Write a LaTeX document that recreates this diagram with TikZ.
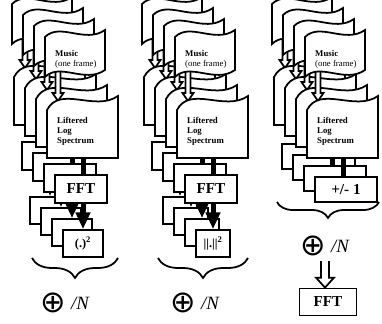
\documentclass[tikz,border=0pt]{standalone}
\usepackage{fontspec}
\setmainfont{Liberation Serif}
\newfontfamily\symfont{DejaVu Sans}
\usetikzlibrary{arrows.meta, positioning, decorations.pathreplacing}

\begin{document}
\begin{tikzpicture}[x=0.3mm, y=-0.3mm,
  fr/.style={draw, fill=white, line width=1.5pt},
  opbox/.style={fr, rectangle, inner sep=0pt, font=\fontsize{13}{13}\selectfont\bfseries},
  sqbox/.style={fr, rectangle, inner sep=0pt, font=\fontsize{10.5}{10.5}\selectfont\bfseries},
  txt/.style={anchor=north west, inner sep=0pt, align=left, font=\fontsize{7.5}{8.5}\selectfont},
  bar/.style={line width=1.5mm},
  blackarr/.style={line width=1.5mm, -{Triangle[length=5mm, width=4.2mm]}},
  hollow/.style n args={3}{to path={
    ([xshift=-#1]\tikztostart) -- ([xshift=-#1, yshift=#3]\tikztotarget)
    -- ([xshift=-#2, yshift=#3]\tikztotarget) -- (\tikztotarget)
    -- ([xshift=#2, yshift=#3]\tikztotarget) -- ([xshift=#1, yshift=#3]\tikztotarget)
    -- ([xshift=#1]\tikztostart)}},
  brc/.style={line width=1.5pt, decorate, decoration={brace, mirror, amplitude=#1}},
  sumsym/.style={inner sep=0pt, font=\symfont\fontsize{26}{26}\selectfont},
  divn/.style={inner sep=0pt, anchor=west, font=\fontsize{16}{16}\selectfont\itshape},
]
\useasboundingbox (0,0) rectangle (382,323);

% frame stacks, back to front
\foreach \k in {3,2,1,0} {
  % music frame and spectrum
  \foreach \c/\cx in {1/0, 2/130, 3/260} {
    \begin{scope}[shift={(\cx-11*\k,-11*\k)}]
      \coordinate (fb\c-\k) at (58,70);
      \coordinate (st\c-\k) at (58,101);
      \draw[fr, hollow={0.75mm}{1.65mm}{2.4mm}] (fb\c-\k) to (st\c-\k);
      \draw[fr] (45,37) .. controls (60,22) and (85,44) .. (105,30) -- (105,70)
        .. controls (85,84) and (60,62) .. (45,77) -- cycle;
      \draw[fr] (47,110) .. controls (60,85) and (95,112) .. (118,96) -- (118,158) -- (47,158) -- cycle;
      \coordinate (sb\c-\k) at (83,158);
    \end{scope}
  }
  % FFT and squaring
  \foreach \c/\cx/\sqw in {1/0/40, 2/130/34} {
    \begin{scope}[shift={(\cx-11*\k,-11*\k)}]
      \node[opbox, minimum width=52*0.3mm, minimum height=28*0.3mm] (fft\c-\k) at (81,189) {};
      \draw[bar] (sb\c-\k) -- (sb\c-\k |- fft\c-\k.north);
      \node[sqbox, minimum width=\sqw*0.3mm, minimum height=27*0.3mm] (sq\c-\k) at (83,243.5) {};
      \draw[blackarr] (fft\c-\k.south -| sq\c-\k.north) -- (sq\c-\k.north);
    \end{scope}
  }
  % sign
  \begin{scope}[shift={(260-11*\k,-11*\k)}]
    \node[opbox, minimum width=62*0.3mm, minimum height=25*0.3mm] (pm3-\k) at (86,189.5) {};
    \draw[bar] (sb3-\k) -- (sb3-\k |- pm3-\k.north);
  \end{scope}
}

% texts of the front frames
\foreach \c/\cx in {1/0, 2/130, 3/260} {
  \node[txt] (mus\c) at (\cx+55,50) {\textbf{Music}\\(one frame)};
  \node[txt, font=\fontsize{7.5}{8.5}\selectfont\bfseries] (lls\c) at (\cx+57,117) {Liftered\\Log\\Spectrum};
}
\node[font=\fontsize{13}{13}\selectfont\bfseries] (tfft1) at (fft1-0) {FFT};
\node[font=\fontsize{13}{13}\selectfont\bfseries] (tfft2) at (fft2-0) {FFT};
\node[font=\fontsize{10.5}{10.5}\selectfont\bfseries] (tsq1) at (sq1-0) {(.)\textsuperscript{2}};
\node[font=\fontsize{10.5}{10.5}\selectfont\bfseries] (tsq2) at (sq2-0) {||.||\textsuperscript{2}};
\node[font=\fontsize{13}{13}\selectfont\bfseries] (tpm3) at (pm3-0) {+/- 1};

% braces
\foreach \c/\l/\r/\yb/\a in {1/32/118/258/6mm, 2/158/248/258/6mm, 3/277/379/202/4.8mm} {
  \coordinate (bl\c) at (\l,\yb);
  \coordinate (br\c) at (\r,\yb);
  \draw[brc=\a] (bl\c) -- (br\c);
}

% averaging
\node[sumsym] (sum1) at (53,303) {⊕};
\node[sumsym] (sum2) at (183,303) {⊕};
\node[sumsym] (sum3) at (313,246) {⊕};
\node[divn] (div1) at ([xshift=1.5mm]sum1.east) {/N};
\node[divn] (div2) at ([xshift=1.5mm]sum2.east) {/N};
\node[divn] (div3) at ([xshift=1.5mm]sum3.east) {/N};

% final FFT
\node[opbox, minimum width=57*0.3mm, minimum height=27*0.3mm] (fin) at (328,302) {FFT};
\coordinate (ar3) at (325,261);
\coordinate (ah3) at (ar3 |- fin.north);
\draw[fr, hollow={1.2mm}{2.7mm}{3mm}] (ar3) to (ah3);

\end{tikzpicture}
\end{document}
